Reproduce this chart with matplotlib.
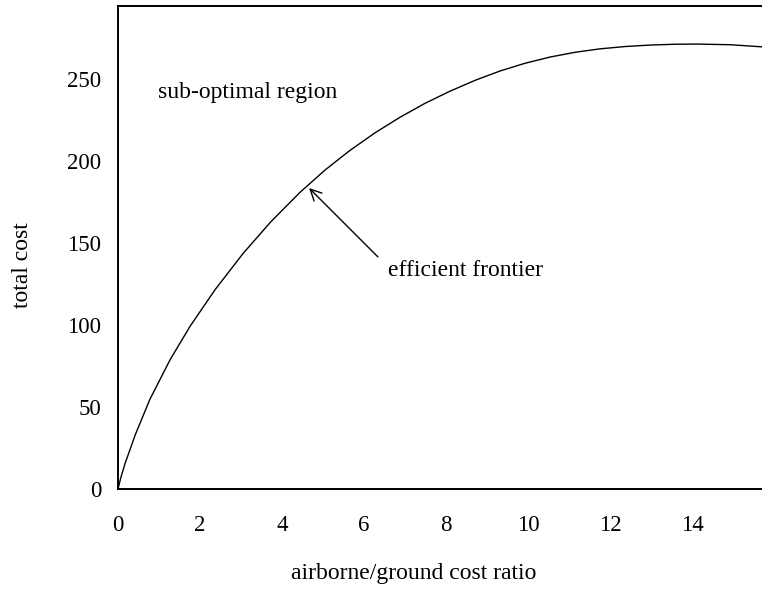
import matplotlib
matplotlib.use("Agg")
import matplotlib.pyplot as plt

# efficient frontier
ratio = [0.0, 0.07, 0.17, 0.42, 0.78, 1.27, 1.76, 2.37, 3.05, 3.73, 4.44, 5.05, 5.66,
         6.27, 6.88, 7.49, 8.10, 8.71, 9.32, 9.93, 10.54, 11.15, 11.76, 12.37, 12.98,
         13.59, 14.12, 14.93, 15.71]
total_cost = [0.0, 7.0, 15.4, 33.0, 54.8, 78.8, 99.3, 121.6, 143.6, 163.0, 180.9, 194.5,
              206.5, 217.2, 226.7, 235.2, 242.6, 249.2, 254.9, 259.6, 263.4, 266.3, 268.4,
              269.8, 270.7, 271.2, 271.3, 270.9, 269.6]

x_ticks = [0, 2, 4, 6, 8, 10, 12, 14]
y_ticks = [0, 50, 100, 150, 200, 250]

plt.rcParams['font.family'] = ['Liberation Serif', 'DejaVu Serif']

W, H = 762, 589
fig = plt.figure(figsize=(W / 100, H / 100), dpi=100)
left, right, top, bottom = 118, 762, 6, 489
ax = fig.add_axes([left / W, (H - bottom) / H, (right - left) / W, (bottom - top) / H])

ax.plot(ratio, total_cost, color='black', lw=1.0)
ax.set_xlim(0, (right - left) / 41.0)
ax.set_ylim(0, (bottom - top) / 1.64)

ax.set_xticks(x_ticks)
ax.set_yticks(y_ticks)
ax.tick_params(axis='both', length=0, labelsize=16.5)
ax.tick_params(axis='x', pad=19)
ax.tick_params(axis='y', pad=12)
ax.spines['right'].set_visible(False)
for s in ['left', 'top', 'bottom']:
    ax.spines[s].set_linewidth(1.4)

ax.text(0.97, 242, 'sub-optimal region', fontsize=17, va='center', ha='left')
ax.text(6.59, 133, 'efficient frontier', fontsize=17, va='center', ha='left')
ax.annotate('', xy=(4.66, 183.5), xytext=(6.34, 141.5),
            arrowprops=dict(arrowstyle='->', color='black', lw=1.0,
                            shrinkA=0, shrinkB=0, mutation_scale=20))

fig.text(414 / W, 1 - 573 / H, 'airborne/ground cost ratio', fontsize=17, ha='center', va='center')
fig.text(22 / W, 1 - 265 / H, 'total cost', fontsize=17, ha='center', va='center', rotation=90)

fig.savefig('out.png', dpi=100)
